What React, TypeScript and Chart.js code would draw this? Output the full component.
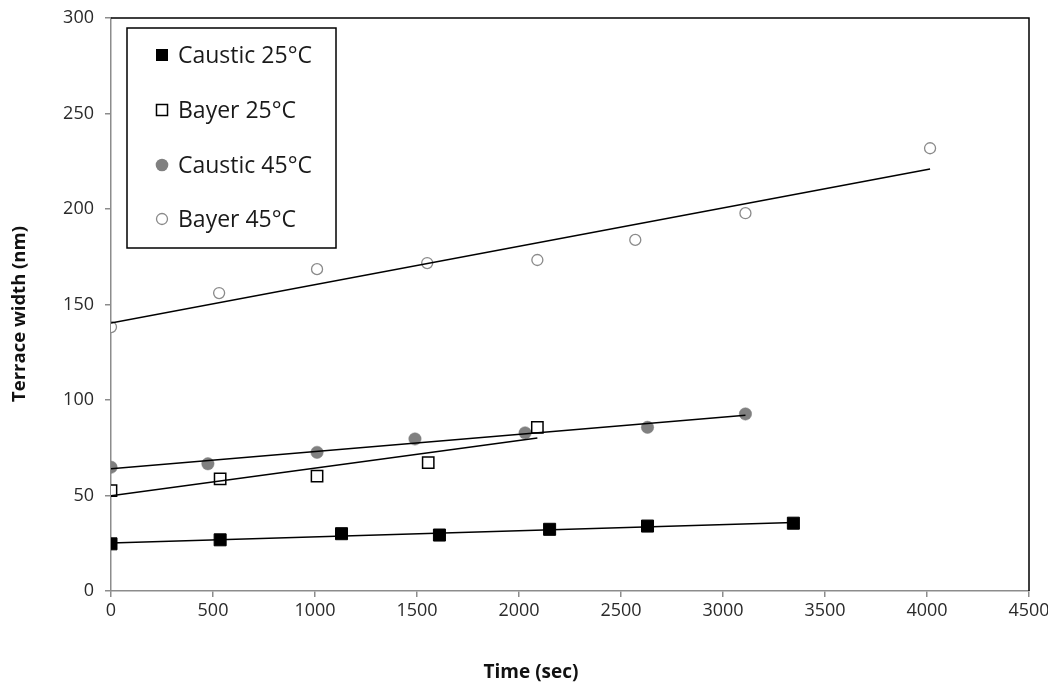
import React, { useEffect, useRef } from "react";
import { Chart, registerables } from "chart.js";

Chart.register(...registerables);

const seriesNames = ["Caustic 25°C", "Bayer 25°C", "Caustic 45°C", "Bayer 45°C"];
const xTitle = "Time (sec)";
const yTitle = "Terrace width (nm)";

const caustic25Time = [0, 535, 1130, 1610, 2150, 2630, 3345];
const caustic25Width = [24.7, 26.8, 30, 29.3, 32.3, 34, 35.5];

const bayer25Time = [0, 535, 1010, 1555, 2090];
const bayer25Width = [52.6, 58.7, 60.1, 67.2, 85.7];

const caustic45Time = [0, 475, 1010, 1490, 2030, 2630, 3110];
const caustic45Width = [64.8, 66.6, 72.6, 79.6, 82.8, 85.7, 92.7];

const bayer45Time = [0, 530, 1010, 1550, 2090, 2570, 3110, 4015];
const bayer45Width = [138.2, 156, 168.5, 171.7, 173.3, 183.8, 197.8, 231.8];

const xTicks = [0, 500, 1000, 1500, 2000, 2500, 3000, 3500, 4000, 4500];
const yTicks = [0, 50, 100, 150, 200, 250, 300];

const FONT = "'Open Sans', 'DejaVu Sans', sans-serif";

function toPoints(xs: number[], ys: number[]) {
  return xs.map((x, i) => ({ x, y: ys[i] }));
}

// Linear least-squares trendline spanning the data's x range (as in the source chart)
function trend(xs: number[], ys: number[]) {
  const n = xs.length;
  const mx = xs.reduce((a, b) => a + b, 0) / n;
  const my = ys.reduce((a, b) => a + b, 0) / n;
  let sxy = 0;
  let sxx = 0;
  for (let i = 0; i < n; i++) {
    sxy += (xs[i] - mx) * (ys[i] - my);
    sxx += (xs[i] - mx) * (xs[i] - mx);
  }
  const slope = sxy / sxx;
  const b = my - slope * mx;
  const x0 = Math.min(...xs);
  const x1 = Math.max(...xs);
  return [
    { x: x0, y: b + slope * x0 },
    { x: x1, y: b + slope * x1 },
  ];
}

const frameAndLegend = {
  id: "frameAndLegend",
  afterDraw(chart: any) {
    const { ctx, chartArea } = chart;
    const { left, right, top, bottom } = chartArea;
    ctx.save();
    // black top & right frame
    ctx.strokeStyle = "#000";
    ctx.lineWidth = 1.5;
    ctx.beginPath();
    ctx.moveTo(left, top);
    ctx.lineTo(right, top);
    ctx.lineTo(right, bottom);
    ctx.stroke();

    // axis titles
    ctx.fillStyle = "#111";
    ctx.font = `bold 19px ${FONT}`;
    ctx.textAlign = "center";
    ctx.textBaseline = "middle";
    ctx.fillText(xTitle, left + 420, bottom + 82);
    ctx.save();
    ctx.translate(20, top + 296);
    ctx.rotate(-Math.PI / 2);
    ctx.font = `bold 18.5px ${FONT}`;
    ctx.fillText(yTitle, 0, 0);
    ctx.restore();

    // legend box
    const bx = left + 16;
    const by = top + 10;
    const bw = 209;
    const bh = 220;
    ctx.fillStyle = "#fff";
    ctx.fillRect(bx, by, bw, bh);
    ctx.strokeStyle = "#000";
    ctx.lineWidth = 1.5;
    ctx.strokeRect(bx, by, bw, bh);

    const mx = bx + 35;
    const tx = bx + 51;
    const rows = [by + 27, by + 82, by + 137, by + 191];
    ctx.font = `23px ${FONT}`;
    ctx.textBaseline = "middle";
    ctx.textAlign = "left";
    rows.forEach((ry, i) => {
      ctx.lineWidth = 1.5;
      if (i === 0) {
        ctx.fillStyle = "#000";
        ctx.fillRect(mx - 6, ry - 6, 12, 12);
      } else if (i === 1) {
        ctx.fillStyle = "#fff";
        ctx.strokeStyle = "#000";
        ctx.fillRect(mx - 5.5, ry - 5.5, 11, 11);
        ctx.strokeRect(mx - 5.5, ry - 5.5, 11, 11);
      } else if (i === 2) {
        ctx.fillStyle = "#808080";
        ctx.beginPath();
        ctx.arc(mx, ry, 6.3, 0, Math.PI * 2);
        ctx.fill();
      } else {
        ctx.fillStyle = "#fff";
        ctx.strokeStyle = "#8a8a8a";
        ctx.lineWidth = 1.3;
        ctx.beginPath();
        ctx.arc(mx, ry, 5.5, 0, Math.PI * 2);
        ctx.fill();
        ctx.stroke();
      }
      ctx.fillStyle = "#1a1a1a";
      ctx.fillText(seriesNames[i], tx, ry + 1);
    });
    ctx.restore();
  },
};

export default function App() {
  const canvasRef = useRef<HTMLCanvasElement | null>(null);

  useEffect(() => {
    document.body.style.margin = "0";
    const canvas = canvasRef.current;
    if (!canvas) return;

    const trendStyle = {
      type: "line" as const,
      borderColor: "#000",
      borderWidth: 1.5,
      pointRadius: 0,
      fill: false,
      showLine: true,
      order: 0,
    };

    const chart = new Chart(canvas, {
      type: "scatter",
      data: {
        datasets: [
          {
            label: seriesNames[0],
            data: toPoints(caustic25Time, caustic25Width),
            pointStyle: "rect",
            pointRadius: 8.5,
            backgroundColor: "#000",
            borderColor: "#000",
            borderWidth: 1,
            order: 1,
          },
          {
            label: seriesNames[1],
            data: toPoints(bayer25Time, bayer25Width),
            pointStyle: "rect",
            pointRadius: 8,
            backgroundColor: "#fff",
            borderColor: "#000",
            borderWidth: 1.5,
            order: 1,
          },
          {
            label: seriesNames[2],
            data: toPoints(caustic45Time, caustic45Width),
            pointStyle: "circle",
            pointRadius: 6.2,
            backgroundColor: "#808080",
            borderColor: "#808080",
            borderWidth: 0.5,
            order: 1,
          },
          {
            label: seriesNames[3],
            data: toPoints(bayer45Time, bayer45Width),
            pointStyle: "circle",
            pointRadius: 5.5,
            backgroundColor: "#fff",
            borderColor: "#8a8a8a",
            borderWidth: 1.3,
            order: 1,
          },
          { ...trendStyle, label: "t1", data: trend(caustic25Time, caustic25Width) },
          { ...trendStyle, label: "t2", data: trend(bayer25Time, bayer25Width) },
          { ...trendStyle, label: "t3", data: trend(caustic45Time, caustic45Width) },
          { ...trendStyle, label: "t4", data: trend(bayer45Time, bayer45Width) },
        ] as any,
      },
      options: {
        animation: false,
        responsive: true,
        maintainAspectRatio: false,
        layout: { padding: { top: 18, right: 19, left: 0, bottom: 0 } },
        plugins: {
          legend: { display: false },
          tooltip: { enabled: false },
        },
        scales: {
          x: {
            type: "linear",
            min: 0,
            max: 4500,
            afterBuildTicks: (scale: any) => {
              scale.ticks = xTicks.map((v) => ({ value: v }));
            },
            afterFit: (scale: any) => {
              scale.height = 100;
              scale.paddingLeft = 0;
              scale.paddingRight = 0;
            },
            ticks: {
              font: { family: FONT, size: 18 },
              color: "#2a2a2a",
              padding: 3,
              maxRotation: 0,
              callback: (v: any) => String(v),
            },
            grid: {
              display: true,
              drawOnChartArea: false,
              drawTicks: true,
              tickLength: 6,
              color: "#8c8c8c",
              lineWidth: 1.5,
            },
            border: { display: true, color: "#8c8c8c", width: 1.5 },
          },
          y: {
            type: "linear",
            min: 0,
            max: 300,
            afterBuildTicks: (scale: any) => {
              scale.ticks = yTicks.map((v) => ({ value: v }));
            },
            afterFit: (scale: any) => {
              scale.width = 111;
              scale.paddingTop = 0;
              scale.paddingBottom = 0;
            },
            ticks: {
              font: { family: FONT, size: 18 },
              color: "#2a2a2a",
              padding: 11,
              callback: (v: any) => String(v),
            },
            grid: {
              display: true,
              drawOnChartArea: false,
              drawTicks: true,
              tickLength: 6,
              color: "#8c8c8c",
              lineWidth: 1.5,
            },
            border: { display: true, color: "#8c8c8c", width: 1.5 },
          },
        },
      },
      plugins: [frameAndLegend],
    });

    return () => chart.destroy();
  }, []);

  return (
    <div style={{ position: "fixed", left: 0, top: 0, width: 1048, height: 691 }}>
      <canvas ref={canvasRef} />
    </div>
  );
}
